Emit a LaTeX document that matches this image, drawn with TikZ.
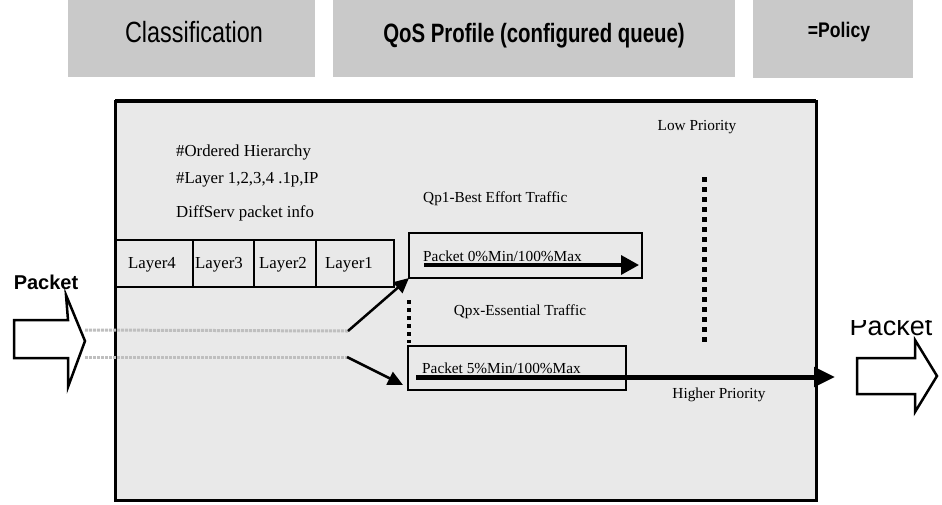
\documentclass[tikz,border=0pt]{standalone}
\usepackage{fontspec}
\setmainfont{Liberation Serif}
\newfontfamily\headfont{Liberation Sans}
\usetikzlibrary{arrows.meta}

\begin{document}
\begin{tikzpicture}[x=1pt,y=-1pt,
  banner/.style={fill=gray!42, draw=none, inner sep=0, outer sep=0, anchor=north west},
  hdr/.style={font=\headfont, inner sep=0, anchor=base},
  txt/.style={font=\fontsize{16.8}{18}\selectfont, inner sep=0},
  smalltxt/.style={font=\fontsize{15.3}{17}\selectfont, inner sep=0},
  cell/.style={draw=black, line width=1.2pt, minimum height=47pt, inner sep=0, outer sep=0, anchor=north west},
  queuebox/.style={draw=black, line width=1.2pt, inner sep=0, outer sep=0, anchor=north west},
  flowthin/.style={-{Triangle[length=18pt,width=19pt]}, line width=3.5pt},
  flowthick/.style={-{Triangle[length=21pt,width=19pt]}, line width=5pt},
  branch/.style={-{Triangle[length=15pt,width=14pt]}, line width=2.5pt},
  trail/.style={gray!50, line width=3pt, dash pattern=on 3pt off 1pt},
  bigdots/.style={line width=5pt, dash pattern=on 5pt off 5pt},
  smalldots/.style={line width=4pt, dash pattern=on 4pt off 4pt},
  blockarrow/.style={draw=black, fill=white, line width=2.5pt, line join=miter}
]
\useasboundingbox (0,0) rectangle (942,504);

% heading banners
\node[banner, minimum width=247pt, minimum height=77pt] (bclass) at (68,0) {};
\node[banner, minimum width=402pt, minimum height=77pt] (bqos) at (333,0) {};
\node[banner, minimum width=160pt, minimum height=78pt] (bpol) at (753,0) {};
\node[hdr, font=\headfont\fontsize{23.4}{26}\selectfont] (tclass) at (194,42) {\scalebox{1}[1.25]{Classification}};
\node[hdr, font=\headfont\bfseries\fontsize{20.4}{24}\selectfont] (tqos) at (534,42) {\scalebox{1}[1.3]{QoS Profile (configured queue)}};
\node[hdr, font=\headfont\bfseries\fontsize{17.6}{20}\selectfont] (tpol) at (839,37) {\scalebox{1}[1.2]{=Policy}};

% policy frame
\node[draw=black, line width=3pt, fill=gray!17, minimum width=701pt, minimum height=399pt,
      inner sep=0, outer sep=0, anchor=north west] (frame) at (115,101) {};
\draw[line width=4.5pt] (frame.north west) -- (frame.north east);

% classification header cells
\node[cell, minimum width=78pt] (c4) at (115,240) {};
\node[cell, minimum width=61pt] (c3) at (193,240) {};
\node[cell, minimum width=62pt] (c2) at (254,240) {};
\node[cell, minimum width=78pt] (c1) at (316,240) {};
\node[txt] (l4) at (152,265) {Layer4};
\node[txt] (l3) at (219,265) {Layer3};
\node[txt] (l2) at (283,265) {Layer2};
\node[txt] (l1) at (349,265) {Layer1};

\node[txt, anchor=west] (h1) at (176,152) {\#Ordered Hierarchy};
\node[txt, anchor=west] (h2) at (176,180) {\#Layer 1,2,3,4 .1p,IP};
\node[txt, anchor=west] (h3) at (176,213) {DiffServ packet info};

% queues
\node[queuebox, minimum width=233pt, minimum height=45pt] (qp1) at (409,233) {};
\node[queuebox, minimum width=218pt, minimum height=44pt] (qpx) at (408,346) {};

\node[smalltxt] (lowp) at (697,127) {Low Priority};
\node[smalltxt, anchor=west] (qp1t) at (423,199) {Qp1-Best Effort Traffic};
\node[smalltxt, anchor=west] (qp1p) at (423,256) {Packet 0\%Min/100\%Max};
\node[smalltxt] (qpxt) at (520,312) {Qpx-Essential Traffic};
\node[smalltxt, anchor=west] (qpxp) at (422,368) {Packet 5\%Min/100\%Max};
\node[smalltxt] (highp) at (719,395) {Higher Priority};

% priority scale
\coordinate (ps1) at (704,177);
\coordinate (ps2) at (704,343);
\draw[bigdots] (ps1) -- (ps2);
\coordinate (qs1) at (409,300);
\coordinate (qs2) at (409,343);
\draw[smalldots] (qs1) -- (qs2);

% incoming packet
\draw[blockarrow] (14,320) -- (68,320) -- (66,295) -- (85,341) -- (68,387) -- (68,358) -- (14,358) -- cycle;
\node[font=\headfont\bfseries\fontsize{20}{24}\selectfont, inner sep=0, anchor=base] (pin) at (46,289) {Packet};

% outgoing packet
\draw[blockarrow] (857,358) -- (915,358) -- (915,340) -- (937,376) -- (915,412) -- (915,394) -- (857,394) -- cycle;
\begin{scope}
  \clip (840,320) rectangle (942,345);
  \node[font=\headfont\fontsize{27}{30}\selectfont, inner sep=0, anchor=base] (pout) at (891,335) {Packet};
\end{scope}

% packet paths
\coordinate (in1) at (85,330);
\coordinate (d1) at (348,331);
\coordinate (in2) at (85,357);
\coordinate (d2) at (347,357);
\coordinate (t2) at (403,385);
\draw[trail] (in1) -- (d1);
\draw[trail] (in2) -- (d2);
\draw[branch] (d1) -- (qp1.south west);
\draw[branch] (d2) -- (t2);

\coordinate (f1a) at (424,265);
\coordinate (f1b) at (639,265);
\draw[flowthin] (f1a) -- (f1b);
\coordinate (f2a) at (416,377);
\coordinate (f2b) at (835,377);
\draw[flowthick] (f2a) -- (f2b);
\end{tikzpicture}
\end{document}
